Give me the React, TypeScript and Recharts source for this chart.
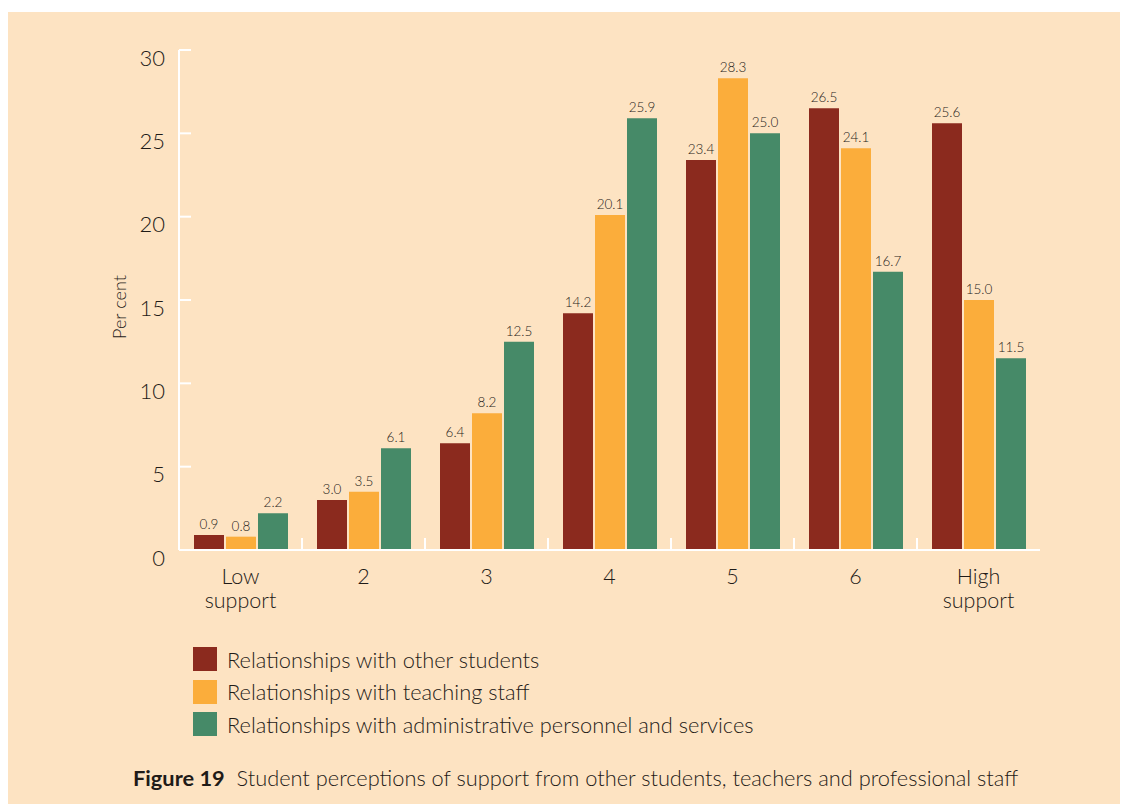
import React from "react";
import { BarChart, Bar, XAxis, YAxis, LabelList, Legend } from "recharts";

const categories = ["Low support", "2", "3", "4", "5", "6", "High support"];
const otherStudents = [0.9, 3.0, 6.4, 14.2, 23.4, 26.5, 25.6];
const teachingStaff = [0.8, 3.5, 8.2, 20.1, 28.3, 24.1, 15.0];
const adminStaff = [2.2, 6.1, 12.5, 25.9, 25.0, 16.7, 11.5];
const yTicks = [0, 5, 10, 15, 20, 25, 30];
const seriesNames = [
  "Relationships with other students",
  "Relationships with teaching staff",
  "Relationships with administrative personnel and services",
];

const data = categories.map((c, i) => ({
  name: c,
  a: otherStudents[i],
  b: teachingStaff[i],
  c: adminStaff[i],
}));

const FONT = "Lato, 'Open Sans', sans-serif";
const TEXT = "#1f1b18";
const BG = "#fde3c2";
const RED = "#8b2a1e";
const ORANGE = "#fbad3b";
const GREEN = "#468a68";
const W = 300;

const YTick = (props: any) => {
  const { x, y, payload } = props;
  return (
    <g>
      <line x1={x + 14} x2={x + 26} y1={y} y2={y} stroke="#ffffff" strokeWidth={2} />
      <text x={x} y={y} dy={7} textAnchor="end" dominantBaseline="central" fontSize={22} fontWeight={W} fill={TEXT} fontFamily={FONT}>
        {payload.value}
      </text>
    </g>
  );
};

const XTick = (props: any) => {
  const { x, y, payload, index } = props;
  const half = payload && payload.offset ? payload.offset : 61.5;
  const words = String(payload.value).split(" ");
  return (
    <g>
      {index > 0 && (
        <line x1={x - half} x2={x - half} y1={y - 12} y2={y} stroke="#ffffff" strokeWidth={2} />
      )}
      {words.map((w, i) => (
        <text key={i} x={x} y={y + 34 + i * 24} textAnchor="middle" fontSize={21.5} fontWeight={W} fill={TEXT} fontFamily={FONT}>
          {w}
        </text>
      ))}
    </g>
  );
};

const LegendContent = (props: any) => {
  const items = [...(props.payload || [])].sort(
    (p: any, q: any) => seriesNames.indexOf(p.value) - seriesNames.indexOf(q.value)
  );
  return (
    <div style={{ fontFamily: FONT }}>
      {items.map((p: any, i: number) => (
        <div key={i} style={{ display: "flex", alignItems: "center", height: 32.5 }}>
          <div style={{ width: 24, height: 24, background: p.color, marginRight: 10 }} />
          <span style={{ fontSize: 21.8, fontWeight: W, color: TEXT, whiteSpace: "nowrap" }}>{p.value}</span>
        </div>
      ))}
    </div>
  );
};

const fmt = (v: any) => Number(v).toFixed(1);
const labelStyle = { fontSize: 13.5, fill: TEXT, fontFamily: FONT, fontWeight: W };

export default function App() {
  return (
    <div
      style={{
        position: "relative",
        width: 1121,
        height: 792,
        marginLeft: -1,
        marginTop: 4,
        background: BG,
        fontFamily: FONT,
      }}
    >
      <BarChart
        width={1100}
        height={792}
        data={data}
        margin={{ top: 38, right: 67, bottom: 172, left: 0 }}
        barSize={30}
        barGap={2}
      >
        <XAxis
          dataKey="name"
          height={82}
          tickLine={false}
          tickSize={0}
          tickMargin={0}
          axisLine={{ stroke: "#ffffff", strokeWidth: 2 }}
          tick={<XTick />}
          interval={0}
        />
        <YAxis
          width={172}
          domain={[0, 30]}
          ticks={yTicks}
          tickLine={false}
          tickSize={14}
          tickMargin={0}
          axisLine={{ stroke: "#ffffff", strokeWidth: 2 }}
          tick={<YTick />}
          interval={0}
          label={{
            value: "Per cent",
            angle: -90,
            position: "center",
            dx: 27,
            dy: 7,
            style: { fontSize: 18, fill: TEXT, fontFamily: FONT, fontWeight: W, textAnchor: "middle" },
          }}
        />
        <Legend
          layout="vertical"
          align="center"
          verticalAlign="middle"
          content={<LegendContent />}
          wrapperStyle={{ left: 186, top: 631, width: 700, height: 100 }}
        />
        <Bar dataKey="a" name={seriesNames[0]} fill={RED} isAnimationActive={false}>
          <LabelList dataKey="a" position="top" offset={6} formatter={fmt} style={labelStyle} />
        </Bar>
        <Bar dataKey="b" name={seriesNames[1]} fill={ORANGE} isAnimationActive={false}>
          <LabelList dataKey="b" position="top" offset={6} formatter={fmt} style={labelStyle} />
        </Bar>
        <Bar dataKey="c" name={seriesNames[2]} fill={GREEN} isAnimationActive={false}>
          <LabelList dataKey="c" position="top" offset={6} formatter={fmt} style={labelStyle} />
        </Bar>
      </BarChart>
      <div
        style={{
          position: "absolute",
          left: 126,
          top: 752,
          fontSize: 21.8,
          fontWeight: W,
          color: TEXT,
          whiteSpace: "nowrap",
          fontFamily: FONT,
        }}
      >
        <b style={{ fontWeight: 700 }}>Figure 19</b>&nbsp;&nbsp;Student perceptions of support from other students, teachers and professional staff
      </div>
    </div>
  );
}
